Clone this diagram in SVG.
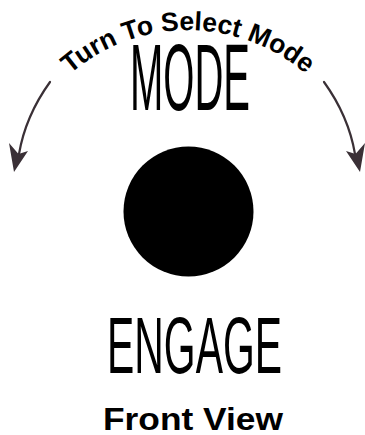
<svg xmlns="http://www.w3.org/2000/svg" width="365" height="435" viewBox="0 0 365 435">
  <defs>
    <style>
      .big { font-family: "Liberation Sans", Arial, sans-serif; font-weight: normal; fill: #000; }
      .bold { font-family: "Liberation Sans", Arial, sans-serif; font-weight: bold; fill: #000; }
      .shaft { fill: none; stroke: #3a3036; stroke-width: 2.2; stroke-linecap: round; }
      .head { fill: #3a3036; stroke: none; }
    </style>
    <path id="arc" d="M18.9,148.4 A180,180 0 0 1 357.1,148.4"/>
  </defs>
  <rect width="365" height="435" fill="#fff"/>
  <g id="connectors">
    <g id="arrow-left">
      <path class="shaft" d="M50,82 Q25.5,116 19,154"/>
      <polygon class="head" points="14,172 9,143 18.5,154 28,151"/>
    </g>
    <g id="arrow-right">
      <path class="shaft" d="M324,82 Q348.5,116 355,154"/>
      <polygon class="head" points="360,172 365,143 355.5,154 346,151"/>
    </g>
  </g>
  <g id="turn-label">
    <text class="bold" font-size="26.5"><textPath href="#arc" startOffset="50%" text-anchor="middle">Turn To Select Mode</textPath></text>
  </g>
  <g id="mode">
    <text class="big" x="130" y="110" font-size="94" textLength="120" lengthAdjust="spacingAndGlyphs">MODE</text>
  </g>
  <g id="knob">
    <circle cx="188.5" cy="211.5" r="65" fill="#000"/>
  </g>
  <g id="engage">
    <text class="big" x="107" y="373" font-size="80" textLength="175" lengthAdjust="spacingAndGlyphs">ENGAGE</text>
  </g>
  <g id="caption">
    <text class="bold" x="103" y="430" font-size="31" textLength="180" lengthAdjust="spacingAndGlyphs">Front View</text>
  </g>
</svg>
